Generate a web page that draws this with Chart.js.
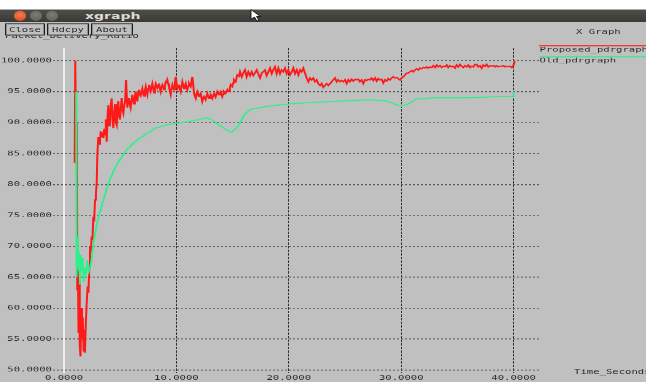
<!DOCTYPE html>
<html>
<head>
<meta charset="utf-8">
<script src="https://cdn.jsdelivr.net/npm/chart.js@4.4.1/dist/chart.umd.min.js"></script>
<style>
  html, body { margin:0; padding:0; width:646px; height:382px; overflow:hidden; background:#c0c0c0; }
  /* the window is laid out tall and squeezed vertically, like the X display it shows */
  #win { position:absolute; left:0; top:0; width:646px; height:637px; transform:scaleY(0.6); transform-origin:0 0;
         background:#c0c0c0; font-family:"DejaVu Sans Mono", monospace; font-size:10.6px; color:#2b2b2b; overflow:hidden; }
  #c { position:absolute; left:0; top:0; }
  #strip { position:absolute; left:0; top:0; width:646px; height:16px; background:#ffffff; }
  #bar { position:absolute; left:0; top:16px; width:646px; height:21px; background:linear-gradient(#4e4d48,#3a3935); }
  .dot { position:absolute; top:18px; width:12px; height:17px; border-radius:50%; }
  #d1 { left:14px; background:radial-gradient(circle at 50% 40%, #f47a4f, #d9441a); }
  #d2 { left:30px; background:radial-gradient(circle at 50% 40%, #7d7c77, #5b5a55); }
  #d3 { left:46px; background:radial-gradient(circle at 50% 40%, #7d7c77, #5b5a55); }
  #title { position:absolute; left:85px; top:16px; font:bold 14px "DejaVu Sans", sans-serif; color:#dedbd2; line-height:21px; }
  .btn { position:absolute; top:39px; height:18px; line-height:18px; border:1px solid #1e1e1e; background:#c0c0c0;
         box-shadow: inset 0 0 0 1px #8c8c8c; text-align:center; }
  .lbl { position:absolute; line-height:14px; white-space:nowrap; }
</style>
</head>
<body>
<div id="win">
  <canvas id="c" width="646" height="637"></canvas>
  <div id="strip"></div>
  <div id="bar"></div>
  <div class="dot" id="d1"></div>
  <div class="dot" id="d2"></div>
  <div class="dot" id="d3"></div>
  <div id="title">xgraph</div>
  <svg style="position:absolute;left:250px;top:15px" width="11" height="22" viewBox="0 0 11 22">
    <path d="M1 1 L1 17 L4.5 13.5 L7 20 L9 19 L6.5 12.5 L10.5 12.5 Z" fill="#ffffff" stroke="#000000" stroke-width="1"/>
  </svg>
  <div class="lbl" id="ylab" style="left:5px; top:52px;">Packet_Delivery_Ratio</div>
  <div class="btn" style="left:5px; width:38px;">Close</div>
  <div class="btn" style="left:47px; width:40px;">Hdcpy</div>
  <div class="btn" style="left:91px; width:40px;">About</div>
  <div class="lbl" style="left:576px; top:45px;">X Graph</div>
  <div class="lbl" style="left:574px; top:613px;">Time_Seconds</div>
</div>
<script>
// Proposed scheme: packet delivery ratio (%) over simulation time (s)
const proposedTime = [
  0.95,1.00,1.05,1.10,1.14,1.18,1.24,1.29,1.34,1.40,1.47,1.53,1.60,1.67,1.74,1.80,1.86,1.93,2.02,2.10,
  2.17,2.25,2.31,2.38,2.46,2.53,2.61,2.68,2.76,2.84,2.91,2.96,3.05,3.12,3.20,3.27,3.35,3.42,3.50,3.58,
  3.65,3.72,3.80,3.87,3.94,4.02,4.09,4.17,4.24,4.32,4.39,4.47,4.54,4.62,4.69,4.76,4.83,4.91,4.98,5.06,
  5.13,5.21,5.28,5.36,5.43,5.52,5.63,5.70,5.78,5.86,5.93,6.01,6.08,6.16,6.23,6.31,6.38,6.45,6.52,6.60,
  6.67,6.75,6.82,6.90,6.97,7.05,7.12,7.20,7.27,7.34,7.41,7.49,7.56,7.64,7.71,7.79,7.86,7.94,8.01,8.09,
  8.16,8.23,8.30,8.38,8.45,8.53,8.60,8.68,8.75,8.83,8.90,8.98,9.05,9.12,9.19,9.27,9.34,9.42,9.49,9.57,
  9.64,9.72,9.79,9.87,9.94,10.01,10.08,10.16,10.23,10.31,10.38,10.46,10.53,10.61,10.68,10.76,10.83,10.90,10.97,11.05,
  11.12,11.20,11.27,11.35,11.42,11.50,11.57,11.65,11.72,11.79,11.86,11.94,12.01,12.09,12.16,12.23,12.30,12.38,12.46,12.53,
  12.60,12.68,12.75,12.82,12.90,12.98,13.05,13.12,13.19,13.27,13.35,13.42,13.50,13.57,13.64,13.72,13.79,13.87,13.94,14.01,
  14.08,14.16,14.23,14.31,14.38,14.46,14.53,14.60,14.68,14.75,14.83,14.90,14.97,15.05,15.12,15.20,15.27,15.35,15.42,15.50,
  15.57,15.66,15.81,15.95,16.10,16.25,16.40,16.55,16.70,16.84,16.99,17.14,17.29,17.44,17.59,17.73,17.88,18.03,18.18,18.33,
  18.48,18.62,18.77,18.92,19.07,19.22,19.36,19.51,19.66,19.81,19.96,20.11,20.26,20.40,20.55,20.70,20.85,21.00,21.14,21.29,
  21.44,21.59,21.74,21.89,22.03,22.18,22.33,22.48,22.62,22.78,22.92,23.07,23.22,23.37,23.52,23.67,23.81,23.96,24.11,24.26,
  24.40,24.56,24.70,24.85,25.00,25.15,25.30,25.44,25.59,25.74,25.89,26.04,26.18,26.33,26.48,26.63,26.78,26.93,27.07,27.22,
  27.37,27.52,27.67,27.82,27.96,28.11,28.26,28.41,28.56,28.71,28.85,29.00,29.15,29.30,29.45,29.60,29.74,29.89,30.04,30.19,
  30.34,30.49,30.63,30.78,30.93,31.08,31.23,31.38,31.52,31.67,31.82,31.97,32.12,32.27,32.41,32.56,32.71,32.86,33.01,33.16,
  33.30,33.45,33.60,33.75,33.90,34.05,34.19,34.34,34.49,34.64,34.79,34.93,35.08,35.23,35.38,35.53,35.68,35.83,35.97,36.12,
  36.27,36.42,36.57,36.71,36.86,37.01,37.16,37.31,37.46,37.60,37.75,37.90,38.05,38.20,38.35,38.49,38.64,38.79,38.94,39.09,
  39.24,39.38,39.53,39.68,39.83,39.98,40.10
];
const proposedPdr = [
  83.5,100,100,83.4,90.0,63.0,66.0,56.0,64.5,54.0,52.2,60.0,55.0,58.5,53.0,56.5,52.8,57.0,60.9,63.5,
  62.5,66.5,70.0,69.0,71.6,71.0,74.8,74.0,77.5,78.5,80.2,84.5,87.7,86.5,87.2,88.6,87.6,88.4,87.5,89.0,
  88.0,90.5,86.9,90.8,92.8,89.5,90.1,93.0,93.9,90.5,89.1,91.5,93.0,90.0,89.6,92.0,93.5,91.0,90.5,92.5,
  94.0,92.0,91.5,92.8,93.3,96.9,92.4,93.2,94.0,93.0,92.4,93.5,94.5,93.5,93.0,94.3,95.0,94.0,93.4,94.8,
  95.3,94.5,94.3,95.0,95.5,94.6,94.3,95.2,95.8,95.0,94.5,95.5,96.1,95.6,95.1,95.8,96.3,95.5,94.8,95.6,
  96.3,96.0,95.6,96.0,96.3,95.5,95.0,95.8,96.1,95.7,95.3,96.0,96.6,96.5,96.9,96.3,95.8,95.0,94.5,95.5,
  96.1,95.6,95.3,96.5,97.4,96.4,95.5,95.8,96.1,95.4,95.0,95.9,96.6,96.0,95.5,95.9,96.3,95.7,95.3,95.9,
  96.3,96.0,95.8,96.8,97.4,96.0,94.7,94.2,93.9,94.5,95.0,94.6,94.2,94.5,94.7,94.0,93.4,93.9,94.2,94.0,
  93.7,94.2,94.7,94.3,93.9,94.2,94.5,94.2,93.9,94.3,94.7,94.4,94.2,94.6,95.0,94.7,94.5,94.8,95.0,94.6,
  94.2,94.6,95.0,94.8,94.7,95.0,95.3,95.1,95.0,95.6,96.1,95.9,95.8,96.4,96.9,96.7,96.6,97.2,97.7,97.6,
  97.5,98.2,97.4,98.0,98.5,97.4,98.2,97.6,98.2,97.6,98.0,98.5,97.8,97.2,98.0,98.2,98.5,97.6,98.2,98.8,
  97.9,98.5,99.0,97.9,98.8,97.9,98.5,98.2,98.8,97.9,98.5,97.7,98.2,98.8,97.9,98.5,97.7,98.5,98.2,98.8,
  98.0,97.2,96.6,97.2,96.9,97.2,96.6,96.9,96.3,96.0,96.3,95.7,96.0,96.3,96.0,96.3,96.6,96.9,97.2,96.6,
  96.9,96.6,96.8,96.6,96.9,96.3,96.9,96.6,97.0,96.7,97.0,96.9,97.0,96.6,96.9,96.3,96.9,96.8,97.0,96.9,
  97.2,96.8,97.2,96.7,97.1,96.9,97.0,96.4,96.9,96.7,97.1,96.9,97.2,97.4,97.2,97.3,97.1,96.9,97.2,97.4,
  97.7,98.0,98.0,98.2,98.4,98.2,98.5,98.7,98.5,98.8,98.7,98.9,98.8,99.0,98.8,99.0,98.9,99.2,98.9,99.3,
  99.0,99.2,98.9,99.1,99.0,99.3,98.9,99.2,99.0,99.1,98.8,99.3,99.0,99.4,99.1,98.9,99.2,99.0,99.3,98.9,
  99.1,99.0,99.4,99.4,99.0,99.2,98.8,99.3,99.1,99.4,99.0,99.2,99.1,99.2,99.0,99.2,99.0,99.1,99.1,99.2,
  99.0,99.1,99.0,99.1,98.9,99.2,99.9
];

// Old scheme: packet delivery ratio (%) over simulation time (s)
const oldTime = [
  1.07,1.08,1.15,1.22,1.27,1.33,1.42,1.51,1.57,1.66,1.75,1.87,1.96,2.07,2.20,2.31,2.43,2.61,2.91,3.20,
  3.50,3.80,4.09,4.39,4.69,4.98,5.28,5.58,5.87,6.17,6.47,6.76,7.06,7.36,7.65,7.94,8.25,8.54,8.83,9.43,
  10.03,10.92,11.50,12.10,12.70,13.28,13.88,14.48,14.92,15.37,15.66,15.95,16.25,16.55,18.03,19.96,22.63,25.00,27.22,28.71,
  29.30,29.98,30.63,31.32,32.86,35.83,38.79,39.98,40.00
];
const oldPdr = [
  95.0,70.8,65.0,71.6,66.5,69.1,63.8,68.6,65.9,68.1,64.3,66.5,65.4,67.8,65.9,66.5,67.5,70.4,73.5,75.6,
  77.4,79.3,80.8,82.1,83.2,84.0,84.8,85.6,86.1,86.7,87.1,87.5,87.8,88.3,88.5,88.9,89.2,89.3,89.5,89.7,
  89.9,90.1,90.3,90.5,90.8,90.3,89.5,88.8,88.4,89.2,89.9,91.0,91.6,92.1,92.6,93.0,93.3,93.5,93.7,93.5,
  93.1,92.6,93.0,93.8,94.0,94.0,94.2,94.2,95.0
];

const xTicks = [0, 10, 20, 30, 40];
const yTicks = [50, 55, 60, 65, 70, 75, 80, 85, 90, 95, 100];
const seriesNames = ['Proposed_pdrgraph', 'Old_pdrgraph'];
const seriesColors = ['#ff1a1a', '#2cf08a'];

const tickFont = { family: '"DejaVu Sans Mono", monospace', size: 10.6 };

// xgraph-style legend: a coloured bar over each series name, right of the plot
const xgLegend = {
  id: 'xgLegend',
  afterDraw(chart) {
    const { ctx, chartArea } = chart;
    ctx.save();
    ctx.font = '10.6px "DejaVu Sans Mono", monospace';
    ctx.textBaseline = 'middle';
    chart.data.datasets.forEach((ds, i) => {
      const lineY = chartArea.top - 3.8 + i * 18.3;
      const textY = chartArea.top + 3.5 + i * 17.6;
      ctx.strokeStyle = ds.borderColor;
      ctx.lineWidth = 2;
      ctx.beginPath();
      ctx.moveTo(chartArea.right, lineY);
      ctx.lineTo(chart.width, lineY);
      ctx.stroke();
      ctx.fillStyle = '#2b2b2b';
      ctx.fillText(ds.label, chartArea.right + 0.5, textY);
    });
    ctx.restore();
  }
};

const isZero = c => c.tick && c.tick.value === 0;

new Chart(document.getElementById('c'), {
  type: 'line',
  data: {
    datasets: [
      { label: seriesNames[0], data: proposedTime.map((t, i) => ({ x: t, y: proposedPdr[i] })),
        borderColor: seriesColors[0], borderWidth: 2, pointRadius: 0, tension: 0, fill: false, order: 2 },
      { label: seriesNames[1], data: oldTime.map((t, i) => ({ x: t, y: oldPdr[i] })),
        borderColor: seriesColors[1], borderWidth: 1.8, pointRadius: 0, tension: 0, fill: false, order: 1 }
    ]
  },
  options: {
    responsive: false,
    animation: false,
    events: [],
    layout: { padding: { left: 0, top: 80, right: 107, bottom: 0 } },
    plugins: { legend: { display: false }, tooltip: { enabled: false } },
    scales: {
      x: {
        type: 'linear', min: -0.98, max: 42.26,
        afterBuildTicks: s => { s.ticks = xTicks.map(v => ({ value: v })); },
        afterFit: s => { s.height = 15.3; },
        grid: { drawTicks: false, color: c => isZero(c) ? '#ececec' : '#2e2e2e', lineWidth: c => isZero(c) ? 2 : 1 },
        border: { display: false, dash: c => isZero(c) ? [] : [4, 2] },
        ticks: { padding: 2, maxRotation: 0, autoSkip: false, font: tickFont, color: '#2b2b2b',
                 callback: v => Number(v).toFixed(4) }
      },
      y: {
        type: 'linear', min: 49.515, max: 102.05,
        afterBuildTicks: s => { s.ticks = yTicks.map(v => ({ value: v })); },
        afterFit: s => { s.width = 53; },
        grid: { drawTicks: false, color: '#5a5a5a', lineWidth: 1.6 },
        border: { display: false, dash: [2, 2] },
        ticks: { padding: 1, autoSkip: false, font: tickFont, color: '#2b2b2b',
                 callback: v => Number(v).toFixed(4) }
      }
    }
  },
  plugins: [xgLegend]
});
</script>
</body>
</html>
